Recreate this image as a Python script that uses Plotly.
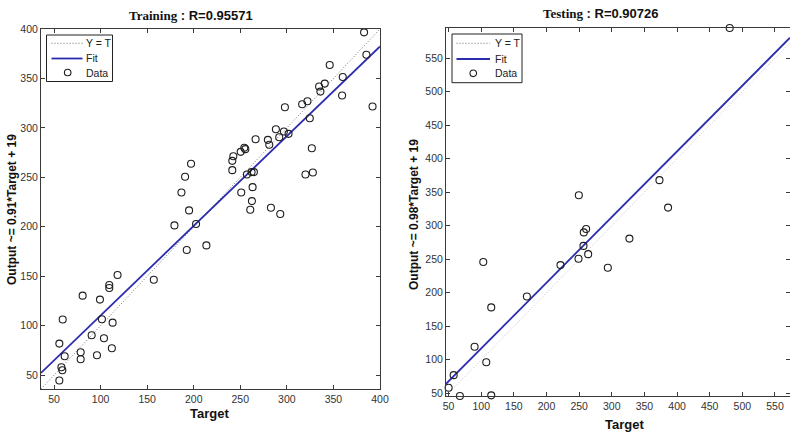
import plotly.graph_objects as go

W, H = 790, 434

# ---------------- data ----------------
train_target = [382.9, 385.4, 392.0, 346.0, 360.0, 359.3, 334.6, 340.7, 336.0, 316.4,
                322.1, 297.9, 324.6, 288.2, 296.8, 301.8, 291.8, 279.6, 281.1, 266.4,
                254.3, 255.4, 250.4, 242.5, 241.4, 241.4, 257.1, 262.1, 264.6, 251.0,
                263.2, 262.5, 260.7, 282.9, 292.9, 326.8, 320.0, 327.9,
                197.1, 190.7, 186.8, 195.0, 179.3, 202.5, 192.5, 213.6, 157.1, 118.2,
                109.3, 109.3, 80.7, 99.3, 59.3, 101.4, 112.9, 90.4, 103.6, 55.7,
                78.6, 78.6, 96.1, 112.1, 61.4, 57.9, 58.9, 55.7, 69.6]
train_output = [396.6, 374.0, 321.6, 363.6, 351.5, 332.7, 341.8, 344.8, 336.7, 323.9,
                327.0, 320.9, 309.8, 298.7, 296.3, 294.0, 290.6, 287.9, 282.9, 288.6,
                280.0, 278.5, 275.8, 271.4, 266.7, 257.3, 252.9, 255.3, 255.3, 234.7,
                240.1, 226.0, 217.2, 219.3, 212.9, 279.5, 252.9, 254.9,
                263.7, 250.6, 234.7, 216.6, 201.4, 202.8, 176.5, 181.2, 146.5, 151.3,
                141.2, 138.1, 130.4, 126.4, 106.2, 106.5, 103.1, 90.3, 87.3, 81.9,
                73.2, 66.1, 70.1, 77.2, 69.1, 58.0, 55.0, 44.6, 35.8]

test_target = [480.6, 373.0, 386.2, 249.5, 260.7, 257.1, 256.6, 263.8, 249.0, 221.4,
               293.9, 327.0, 103.1, 115.3, 169.9, 89.8, 107.7, 57.7, 50.0, 67.3, 115.3]
test_output = [594.9, 368.0, 327.1, 345.4, 295.1, 290.1, 269.9, 257.6, 250.7, 241.3,
               237.4, 280.8, 245.8, 178.2, 194.5, 119.5, 96.4, 77.1, 58.4, 46.0, 47.0]

train_fit = (0.907, 19.6)   # slope, intercept of the drawn fit line
test_fit = (0.98, 19.0)

train_title = "Training"
train_r = "R=0.95571"
test_title = "Testing"
test_r = "R=0.90726"
train_ylabel = "Output ~= 0.91*Target + 19"
test_ylabel = "Output ~= 0.98*Target + 19"
xlabel = "Target"
legend_labels = ["Y = T", "Fit", "Data"]

train_xrange = [36, 400]
train_yrange = [36, 400]
test_xrange = [46, 573]
test_yrange = [46, 595]
train_ticks = [50, 100, 150, 200, 250, 300, 350, 400]
test_ticks = [50, 100, 150, 200, 250, 300, 350, 400, 450, 500, 550]

# ---------------- styling ----------------
SANS = "Liberation Sans, Arial, sans-serif"
SERIF = "Liberation Serif, Times New Roman, serif"
FIT_COLOR = "#2c2cae"
DIAG_COLOR = "#707070"
DIAG_COLOR_TEST = "#c4c4c4"
AX_COLOR = "#3a3a3a"
DIAG_DASH = "1px,2px"


def px_x(p):
    return p / W


def px_y(p):
    return 1 - p / H


fig = go.Figure()


def add_panel(target, output, fit, xr, yr, xa, ya, diag_color):
    lo = min(xr[0], yr[0])
    hi = max(xr[1], yr[1])
    fig.add_trace(go.Scatter(x=[lo, hi], y=[lo, hi], mode="lines", name=legend_labels[0],
                             line=dict(color=diag_color, width=1, dash=DIAG_DASH),
                             xaxis=xa, yaxis=ya, hoverinfo="skip"))
    a, b = fit
    fig.add_trace(go.Scatter(x=[xr[0], xr[1]], y=[a * xr[0] + b, a * xr[1] + b],
                             mode="lines", name=legend_labels[1],
                             line=dict(color=FIT_COLOR, width=1.8),
                             xaxis=xa, yaxis=ya, hoverinfo="skip"))
    fig.add_trace(go.Scatter(x=target, y=output, mode="markers", name=legend_labels[2],
                             marker=dict(symbol="circle-open", size=7, color="#1e1e1e",
                                         line=dict(color="#1e1e1e", width=1.1)),
                             cliponaxis=False, xaxis=xa, yaxis=ya))


add_panel(train_target, train_output, train_fit, train_xrange, train_yrange, "x", "y",
          DIAG_COLOR)
add_panel(test_target, test_output, test_fit, test_xrange, test_yrange, "x2", "y2",
          DIAG_COLOR_TEST)

axis_common = dict(showgrid=False, zeroline=False, showline=True, linecolor=AX_COLOR,
                   linewidth=1, mirror="ticks", ticks="inside", ticklen=4,
                   tickcolor=AX_COLOR, tickwidth=1, automargin=False,
                   tickfont=dict(family=SANS, size=10.5, color="#333333"))

fig.update_layout(
    width=W, height=H,
    margin=dict(l=0, r=0, t=0, b=0, pad=0, autoexpand=False),
    paper_bgcolor="white", plot_bgcolor="white",
    showlegend=False,
    xaxis=dict(domain=[px_x(41), px_x(380)], range=train_xrange, tickvals=train_ticks,
               anchor="y", **axis_common),
    yaxis=dict(domain=[px_y(389), px_y(29)], range=train_yrange, tickvals=train_ticks,
               anchor="x", **axis_common),
    xaxis2=dict(domain=[px_x(446), 1.0], range=test_xrange, tickvals=test_ticks,
                anchor="y2", **axis_common),
    yaxis2=dict(domain=[px_y(396), px_y(28)], range=test_yrange, tickvals=test_ticks,
                anchor="x2", **axis_common),
)


# ---------------- hand-drawn legend boxes (MATLAB style) ----------------
def add_legend(box, rows, line_x, marker_x, text_x):
    x0, y0, x1, y1 = box
    fig.add_shape(type="rect", xref="paper", yref="paper",
                  x0=px_x(x0), x1=px_x(x1), y0=px_y(y1), y1=px_y(y0),
                  line=dict(color="#222222", width=1), fillcolor="white", layer="above")
    fig.add_shape(type="line", xref="paper", yref="paper",
                  x0=px_x(line_x[0]), x1=px_x(line_x[1]), y0=px_y(rows[0]), y1=px_y(rows[0]),
                  line=dict(color=DIAG_COLOR, width=1, dash=DIAG_DASH), layer="above")
    fig.add_shape(type="line", xref="paper", yref="paper",
                  x0=px_x(line_x[0]), x1=px_x(line_x[1]), y0=px_y(rows[1]), y1=px_y(rows[1]),
                  line=dict(color=FIT_COLOR, width=1.8), layer="above")
    r = 3.3
    fig.add_shape(type="circle", xref="paper", yref="paper",
                  x0=px_x(marker_x - r), x1=px_x(marker_x + r),
                  y0=px_y(rows[2] + r), y1=px_y(rows[2] - r),
                  line=dict(color="#1e1e1e", width=1.1), layer="above")
    for lab, yy in zip(legend_labels, rows):
        fig.add_annotation(text=lab, x=px_x(text_x), y=px_y(yy), xref="paper", yref="paper",
                           xanchor="left", yanchor="middle", showarrow=False,
                           font=dict(family=SANS, size=10.5, color="#222222"))


add_legend((46.5, 35, 112.5, 81.5), [43.3, 58.5, 72.5], (51.5, 82.5), 67.7, 83.5)
add_legend((452, 34, 522, 82.7), [43.3, 59, 73.3], (456.5, 490), 473.3, 492.5)


def title_text(name, r):
    return (f"<b><span style='font-family:{SERIF}'>{name}</span>"
            f" : {r}</b>")


annos = [
    dict(text=title_text(train_title, train_r), x=px_x(191), y=px_y(15.5)),
    dict(text=title_text(test_title, test_r), x=px_x(601), y=px_y(14)),
    dict(text=f"<b>{xlabel}</b>", x=px_x(210), y=px_y(413), size=13),
    dict(text=f"<b>{xlabel}</b>", x=px_x(624), y=px_y(424), size=13),
    dict(text=f"<b>{train_ylabel}</b>", x=px_x(12), y=px_y(210), size=12, angle=-90),
    dict(text=f"<b>{test_ylabel}</b>", x=px_x(414), y=px_y(215), size=12, angle=-90),
]
for a in annos:
    fig.add_annotation(text=a["text"], x=a["x"], y=a["y"], xref="paper", yref="paper",
                       xanchor="center", yanchor="middle", showarrow=False,
                       textangle=a.get("angle", 0),
                       font=dict(family=SANS, size=a.get("size", 13), color="#111111"))

fig.write_html("out.html", config={"displayModeBar": False},
               post_script="document.body.style.margin='0';")
